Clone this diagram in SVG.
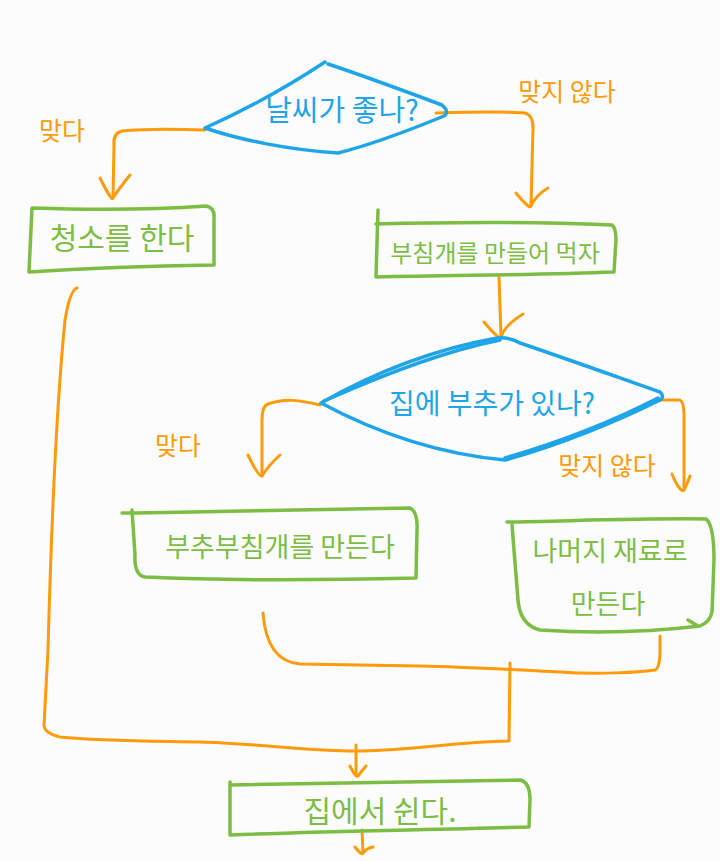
<svg xmlns="http://www.w3.org/2000/svg" width="720" height="861" viewBox="0 0 720 861">
<style>
.bg{fill:#fcfcfc}
.dia{fill:none;stroke:#1ea5e9;stroke-width:3.5;stroke-linejoin:round;stroke-linecap:round}
.box{fill:none;stroke:#7cbd44;stroke-width:3.5;stroke-linejoin:round;stroke-linecap:round}
.con{fill:none;stroke:#ff9a0a;stroke-width:3;stroke-linejoin:round;stroke-linecap:round}
.tb{fill:#1ea5e9;font-family:"Noto Sans CJK KR","Noto Sans",sans-serif;text-anchor:middle}
.tg{fill:#7cbd44;font-family:"Noto Sans CJK KR","Noto Sans",sans-serif;text-anchor:middle}
.to{fill:#ff9a0a;font-family:"Noto Sans CJK KR","Noto Sans",sans-serif;text-anchor:middle}
</style>
<rect class="bg" x="0" y="0" width="720" height="861"/>
<g id="connectors">
  <path class="con" d="M205,130 C180,129 150,128 122,131 Q113,133 114,145 L113,198"/>
  <path class="con" d="M100,178 Q112,202 113,198 Q118,190 130,175"/>
  <path class="con" d="M436,113 C470,112 505,111 525,113 Q533,115 533,128 L531,206"/>
  <path class="con" d="M516,193 Q530,210 531,206 Q536,195 548,188"/>
  <path class="con" d="M499,276 L501,337"/>
  <path class="con" d="M484,322 Q499,340 501,337 Q505,325 523,314"/>
  <path class="con" d="M320,405 C300,400 285,398 268,404 Q262,406 262,420 L262,476"/>
  <path class="con" d="M248,455 Q258,476 262,476 Q268,466 280,455"/>
  <path class="con" d="M656,400 L680,400 Q684,402 684,415 L684,490"/>
  <path class="con" d="M672,474 Q680,493 684,490 Q688,482 690,476"/>
  <path class="con" d="M263,613 C265,640 275,662 300,664 L420,666 C470,667 520,670 560,672 C600,675 640,672 655,670 Q660,668 660,650 L660,636"/>
  <path class="con" d="M510,663 L509,741 C450,742 420,750 360,751 C320,752 250,743 200,742 C150,741 100,741 60,737 Q44,733 44,725 L48,650 C52,500 57,400 65,320 Q70,290 77,288"/>
  <path class="con" d="M356,745 L356,775"/>
  <path class="con" d="M350,766 Q356,778 358,776 Q361,772 366,766"/>
  <path class="con" d="M362,830 L363,852"/>
  <path class="con" d="M355,847 Q362,856 363,853 Q367,848 373,847"/>
</g>
<g id="label_yes1"><text class="to" x="62" y="140" font-size="25">맞다</text></g>
<g id="label_no1"><text class="to" x="567" y="101" font-size="25">맞지 않다</text></g>
<g id="label_yes2"><text class="to" x="178" y="455" font-size="25">맞다</text></g>
<g id="label_no2"><text class="to" x="607" y="475" font-size="25">맞지 않다</text></g>
<g id="n_weather">
  <path class="dia" d="M205,128 C250,108 290,85 325,62 M328,64 C370,78 410,93 442,105 Q450,112 444,116 C410,130 370,145 338,153 C290,150 240,140 205,128"/>
  <text class="tb" x="342" y="121" font-size="29">날씨가 좋나?</text>
</g>
<g id="n_clean">
  <path class="box" d="M33,208 C90,210 150,210 206,206 Q215,208 214,218 L214,265 C150,266 90,268 29,272 L32,208"/>
  <text class="tg" x="122" y="249" font-size="30">청소를 한다</text>
</g>
<g id="n_pancake">
  <path class="box" d="M378,210 L376,276 M376,224 C450,222 540,222 612,225 Q616,228 616,240 L614,272 C540,275 460,275 376,277"/>
  <text class="tg" x="495" y="262" font-size="24">부침개를 만들어 먹자</text>
</g>
<g id="n_buchu">
  <path class="dia" d="M321,403 C370,375 430,350 497,338 Q510,337 520,343 C570,360 620,378 660,392 Q665,397 660,400 C620,420 560,445 505,460 C450,455 390,440 321,403"/>
  <path class="dia" d="M324,401 C380,376 440,352 500,340 M505,458 C560,442 615,420 658,398"/>
  <text class="tb" x="492" y="414" font-size="28">집에 부추가 있나?</text>
</g>
<g id="n_buchu_pancake">
  <path class="box" d="M122,513 L135,513 C230,511 330,510 410,508 Q418,512 417,530 L416,578 C330,580 230,581 145,577 Q134,575 135,555 L132,510"/>
  <text class="tg" x="280" y="557" font-size="27">부추부침개를 만든다</text>
</g>
<g id="n_rest_ingredients">
  <path class="box" d="M507,522 C570,521 650,518 706,519 Q714,525 714,560 L712,612 Q710,622 700,626 C650,632 600,634 540,630 Q520,625 518,600 L512,525"/>
  <path class="box" d="M688,620 L698,626"/>
  <text class="tg" x="610" y="561" font-size="27">나머지 재료로</text>
  <text class="tg" x="608" y="614" font-size="27">만든다</text>
</g>
<g id="n_home">
  <path class="box" d="M230,785 C320,784 420,782 520,780 Q530,782 530,800 L529,827 C430,830 330,831 230,835 L230,782"/>
  <text class="tg" x="380" y="822" font-size="30">집에서 쉰다.</text>
</g>
</svg>
